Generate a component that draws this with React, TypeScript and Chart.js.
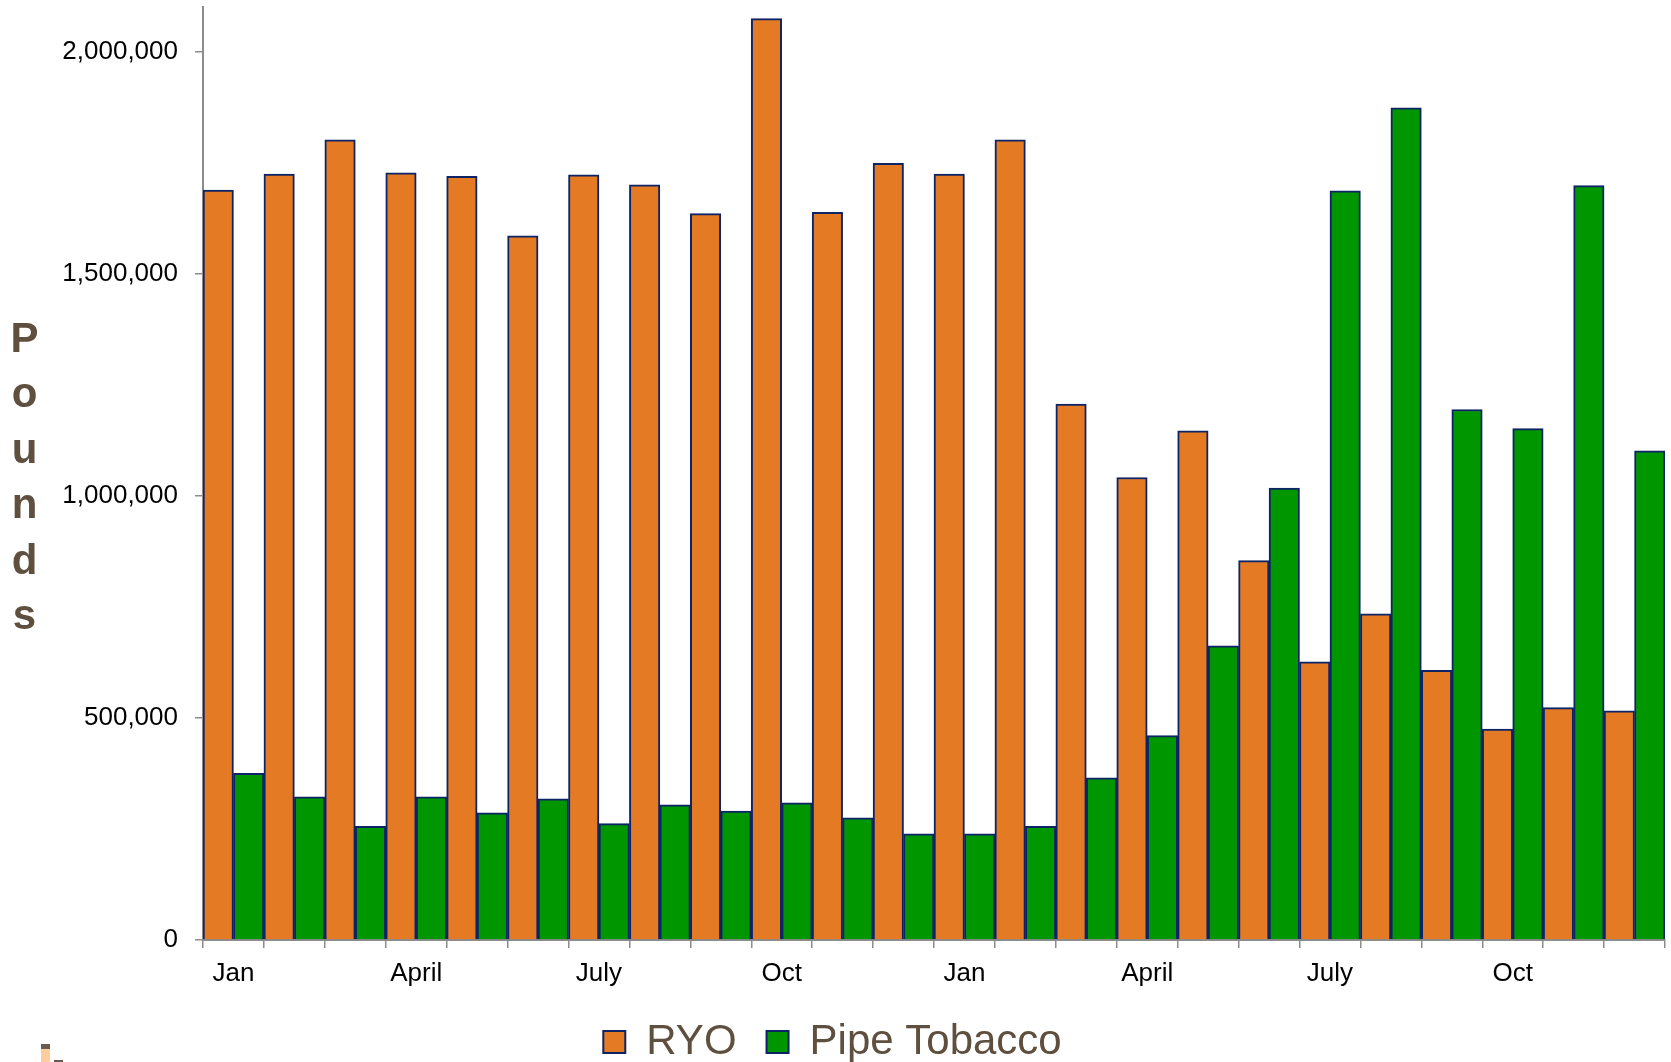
import React, { useEffect, useRef } from "react";
import { Chart, registerables } from "chart.js";

Chart.register(...registerables);

const months = [
  "Jan", "Feb", "Mar", "April", "May", "June", "July", "Aug", "Sep", "Oct", "Nov", "Dec",
  "Jan", "Feb", "Mar", "April", "May", "June", "July", "Aug", "Sep", "Oct", "Nov", "Dec",
];
const shownLabels = ["Jan", "April", "July", "Oct"];

const ryo = [
  1688000, 1724000, 1801000, 1727000, 1719000, 1585000, 1722000, 1700000, 1635000, 2074000, 1638000, 1748000,
  1724000, 1801000, 1206000, 1041000, 1146000, 854000, 626000, 734000, 607000, 475000, 523000, 516000,
];
const pipeTobacco = [
  375000, 322000, 256000, 322000, 286000, 318000, 262000, 304000, 290000, 309000, 275000, 239000,
  239000, 256000, 365000, 460000, 662000, 1017000, 1686000, 1873000, 1194000, 1151000, 1698000, 1101000,
];
const yTicks = [0, 500000, 1000000, 1500000, 2000000];
const yTitle = "Pounds";

const FONT = '"Liberation Sans", Arial, Helvetica, sans-serif';
const BROWN = "#5e4f3e";
const GRAY = "#8c8c8c";
const NAVY = "#0c2366";

const yTitlePlugin = {
  id: "stackedYTitle",
  afterDraw(chart: any) {
    const ctx = chart.ctx;
    const area = chart.chartArea;
    const letters = yTitle.split("");
    const step = 55.4;
    const mid = (area.top + area.bottom) / 2;
    const firstBaseline = mid + 17 - step * (letters.length / 2 - 0.5);
    ctx.save();
    ctx.fillStyle = BROWN;
    ctx.font = `bold 42px ${FONT}`;
    ctx.textAlign = "center";
    ctx.textBaseline = "alphabetic";
    letters.forEach((ch, i) => {
      ctx.fillText(ch, 24.5, firstBaseline + i * step);
    });
    ctx.restore();
  },
};

const cornerMarkPlugin = {
  id: "cornerMark",
  afterDraw(chart: any) {
    const ctx = chart.ctx;
    const h = chart.height;
    ctx.save();
    ctx.fillStyle = "#6b5a4e";
    ctx.fillRect(41, h - 18, 9, 5);
    ctx.fillStyle = "#ffcc9e";
    ctx.fillRect(41, h - 13, 9, 13);
    ctx.fillStyle = "#6b5a4e";
    ctx.fillRect(54, h - 2, 9, 2);
    ctx.restore();
  },
};

export default function App() {
  const ref = useRef<HTMLCanvasElement | null>(null);

  useEffect(() => {
    if (!ref.current) return;
    Chart.defaults.font.family = FONT;
    const chart = new Chart(ref.current, {
      type: "bar",
      data: {
        labels: months,
        datasets: [
          {
            label: "RYO",
            data: ryo,
            backgroundColor: "#e47b24",
            borderColor: NAVY,
            borderWidth: 2,
            barPercentage: 1,
            categoryPercentage: 1,
          },
          {
            label: "Pipe Tobacco",
            data: pipeTobacco,
            backgroundColor: "#009600",
            borderColor: NAVY,
            borderWidth: 2,
            barPercentage: 1,
            categoryPercentage: 1,
          },
        ],
      },
      options: {
        responsive: false,
        animation: false,
        layout: { padding: { top: 7, right: 6, bottom: -11, left: 0 } },
        plugins: {
          legend: {
            position: "bottom",
            labels: {
              boxWidth: 22,
              boxHeight: 22,
              padding: 30,
              color: BROWN,
              font: { size: 42, family: FONT },
            },
          },
          tooltip: { enabled: false },
        },
        scales: {
          x: {
            offset: true,
            grid: {
              offset: true,
              drawOnChartArea: false,
              color: GRAY,
              tickLength: 8,
              lineWidth: 1.5,
            },
            border: { color: GRAY, width: 2 },
            ticks: {
              autoSkip: false,
              maxRotation: 0,
              minRotation: 0,
              color: "#000",
              font: { size: 26, family: FONT },
              padding: 10,
              callback: (_v: any, i: number) =>
                shownLabels.includes(months[i]) ? months[i] : "",
            },
            afterFit: (s: any) => {
              s.height = 51;
              s.paddingLeft = 0;
              s.paddingRight = 0;
            },
          },
          y: {
            min: 0,
            max: 2100000,
            ticks: {
              autoSkip: false,
              stepSize: 500000,
              color: "#000",
              font: { size: 26, family: FONT },
              padding: 17,
              callback: (v: any) => Number(v).toLocaleString("en-US"),
            },
            grid: {
              drawOnChartArea: false,
              color: GRAY,
              tickLength: 8,
              lineWidth: 1.5,
            },
            border: { color: GRAY, width: 2 },
            afterBuildTicks: (s: any) => {
              s.ticks = yTicks.map((v) => ({ value: v }));
            },
            afterFit: (s: any) => {
              s.width = 203;
              s.paddingTop = 0;
              s.paddingBottom = 0;
            },
          },
        },
      },
      plugins: [yTitlePlugin, cornerMarkPlugin],
    } as any);
    return () => chart.destroy();
  }, []);

  return (
    <div style={{ position: "absolute", left: 0, top: 0, width: 1671, height: 1062, background: "#fff" }}>
      <canvas ref={ref} width={1671} height={1062} style={{ display: "block" }} />
    </div>
  );
}
